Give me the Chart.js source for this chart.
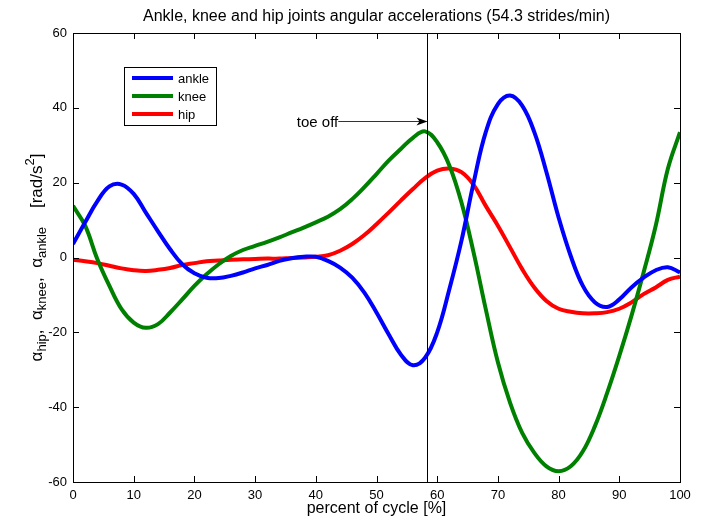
<!DOCTYPE html>
<html>
<head>
<meta charset="utf-8">
<script src="https://cdn.jsdelivr.net/npm/chart.js@4"></script>
<style>
  body { margin: 0; background: #fff; }
  #wrap { width: 706px; height: 520px; }
</style>
</head>
<body>
<div id="wrap"><canvas id="c"></canvas></div>
<script>
// percent of gait cycle
var pct = [0, 2, 4, 6, 8, 10, 12, 14, 16, 18, 20, 22, 24, 26, 28, 30, 32, 34, 36, 38, 40,
  42, 44, 46, 48, 50, 52, 54, 56, 58, 60, 62, 64, 66, 68, 70, 72, 74, 76, 78, 80,
  82, 84, 86, 88, 90, 92, 94, 96, 98, 100];

var ankle = [3.6, 9.4, 15, 19, 19.5, 17, 12, 7, 2.2, -1.8, -4.2, -5.4, -5.5, -4.9, -4, -2.9, -2, -0.9, -0.2, 0.2, 0.2,
  -0.9, -2.7, -5.4, -9.4, -14.7, -20.5, -25.9, -28.8, -26.8, -20, -8.5, 4.5, 20, 33.5, 41, 43.3, 40.6, 33.5, 22.8, 10.7,
  0.4, -7.6, -12, -13.2, -11.2, -8, -5.4, -3.4, -2.6, -4];

var knee = [13.8, 8.5, -0.4, -7.6, -13.8, -17.4, -18.8, -17.8, -14.7, -11.2, -7.6, -4.5, -1.8, 0.4, 2, 3.1, 4.2, 5.4, 6.7, 8, 9.4,
  10.9, 12.9, 15.6, 18.8, 22.3, 25.9, 29, 32, 33.7, 30.8, 24.6, 14.7, 1.3, -13.8, -28, -38.8, -46.9, -52.2, -55.8, -57.1,
  -55.8, -51.8, -45, -36.2, -26.3, -15.6, -4, 8.5, 23.7, 33.5];

var hip = [-0.6, -1, -1.5, -2.2, -2.9, -3.4, -3.6, -3.3, -2.8, -2, -1.5, -1, -0.8, -0.6, -0.5, -0.4, -0.3, -0.3, -0.1, 0, 0.2,
  0.6, 1.8, 3.6, 6, 8.9, 12, 15.2, 18.3, 21.2, 23.2, 23.8, 22.8, 19.4, 13.8, 8.5, 2.7, -3.1, -8, -11.6, -13.7,
  -14.5, -14.9, -14.9, -14.6, -13.7, -12, -9.8, -8, -6, -5.1];

var seriesNames = ['ankle', 'knee', 'hip'];
var seriesColors = ['#0000ff', '#008000', '#ff0000'];
var xTicks = [0, 10, 20, 30, 40, 50, 60, 70, 80, 90, 100];
var yTicks = [-60, -40, -20, 0, 20, 40, 60];
var toeOff = 58.4;
var toeOffLabel = { text: 'toe off', x: 43.7, y: 36.4 };

var FONT = '"Liberation Sans", Arial, sans-serif';

function pts(arr) {
  return arr.map(function(v, i) { return { x: pct[i], y: v }; });
}

var extras = {
  id: 'extras',
  afterDatasetsDraw: function(chart) {
    var ctx = chart.ctx;
    var a = chart.chartArea;
    var xs = chart.scales.x, ys = chart.scales.y;
    ctx.save();

    // toe-off line
    var tx = Math.round(xs.getPixelForValue(toeOff)) + 0.5;
    ctx.strokeStyle = '#000';
    ctx.lineWidth = 1;
    ctx.beginPath();
    ctx.moveTo(tx, a.top);
    ctx.lineTo(tx, a.bottom);
    ctx.stroke();

    // arrow + label
    var ax = xs.getPixelForValue(toeOffLabel.x);
    var ay = Math.round(ys.getPixelForValue(toeOffLabel.y)) + 0.5;
    ctx.strokeStyle = '#333';
    ctx.beginPath();
    ctx.moveTo(ax, ay);
    ctx.lineTo(tx - 1, ay);
    ctx.stroke();
    ctx.fillStyle = '#000';
    ctx.beginPath();
    ctx.moveTo(tx, ay);
    ctx.lineTo(tx - 11, ay - 4);
    ctx.lineTo(tx - 8, ay);
    ctx.lineTo(tx - 11, ay + 4);
    ctx.closePath();
    ctx.fill();
    ctx.font = '15px ' + FONT;
    ctx.textAlign = 'right';
    ctx.textBaseline = 'middle';
    ctx.fillText(toeOffLabel.text, ax, ay + 1);

    // frame
    ctx.strokeStyle = '#000';
    ctx.lineWidth = 1;
    ctx.strokeRect(Math.round(a.left) + 0.5, Math.round(a.top) + 0.5,
      Math.round(a.right - a.left), Math.round(a.bottom - a.top));

    // inward ticks on all four sides
    ctx.beginPath();
    xTicks.forEach(function(v) {
      var px = Math.round(xs.getPixelForValue(v)) + 0.5;
      ctx.moveTo(px, a.bottom); ctx.lineTo(px, a.bottom - 6);
      ctx.moveTo(px, a.top); ctx.lineTo(px, a.top + 6);
    });
    yTicks.forEach(function(v) {
      var py = Math.round(ys.getPixelForValue(v)) + 0.5;
      ctx.moveTo(a.left, py); ctx.lineTo(a.left + 6, py);
      ctx.moveTo(a.right, py); ctx.lineTo(a.right - 6, py);
    });
    ctx.stroke();

    // legend box
    var lx = 124, ly = 67, lw = 92, lh = 58;
    ctx.fillStyle = '#fff';
    ctx.fillRect(lx, ly, lw, lh);
    ctx.strokeRect(lx + 0.5, ly + 0.5, lw, lh);
    ctx.font = '13px ' + FONT;
    ctx.textAlign = 'left';
    ctx.textBaseline = 'middle';
    chart.data.datasets.forEach(function(ds, i) {
      var yy = ly + 11 + i * 18;
      ctx.strokeStyle = ds.borderColor;
      ctx.lineWidth = 4;
      ctx.beginPath();
      ctx.moveTo(lx + 8, yy);
      ctx.lineTo(lx + 49, yy);
      ctx.stroke();
      ctx.fillStyle = '#000';
      ctx.fillText(ds.label, lx + 54, yy + 1);
    });

    // title
    ctx.fillStyle = '#000';
    ctx.font = '16px ' + FONT;
    ctx.textAlign = 'center';
    ctx.textBaseline = 'middle';
    ctx.fillText('Ankle, knee and hip joints angular accelerations (54.3 strides/min)', (a.left + a.right) / 2, 17);

    // x axis title
    ctx.font = '16px ' + FONT;
    ctx.fillText('percent of cycle [%]', (a.left + a.right) / 2, 509);

    // y axis title with subscripts
    var parts = [
      ['\u03b1', 0], ['hip', 1], [',  ', 0],
      ['\u03b1', 0], ['knee', 1], [',  ', 0],
      ['\u03b1', 0], ['ankle', 1], ['    [rad/s', 0], ['2', 2], [']', 0]
    ];
    var big = '17px ' + FONT, small = '13px ' + FONT;
    var total = 0;
    parts.forEach(function(p) {
      ctx.font = p[1] ? small : big;
      total += ctx.measureText(p[0]).width;
    });
    ctx.translate(37, (a.top + a.bottom) / 2);
    ctx.rotate(-Math.PI / 2);
    ctx.textAlign = 'left';
    ctx.textBaseline = 'alphabetic';
    var cx = -total / 2;
    parts.forEach(function(p) {
      ctx.font = p[1] ? small : big;
      var dy = p[1] === 1 ? 4 : (p[1] === 2 ? -8 : 0);
      ctx.fillText(p[0], cx, 5 + dy);
      cx += ctx.measureText(p[0]).width;
    });
    ctx.restore();
  }
};

var datasets = [ankle, knee, hip].map(function(arr, i) {
  return {
    label: seriesNames[i],
    data: pts(arr),
    borderColor: seriesColors[i],
    backgroundColor: seriesColors[i],
    borderWidth: 4,
    pointRadius: 0,
    tension: 0.4,
    fill: false
  };
});

new Chart(document.getElementById('c'), {
  type: 'line',
  data: { datasets: datasets },
  options: {
    responsive: true,
    maintainAspectRatio: false,
    animation: false,
    layout: { padding: { left: 0, top: 33, right: 26, bottom: 0 } },
    plugins: {
      legend: { display: false },
      title: { display: false },
      tooltip: { enabled: false }
    },
    scales: {
      x: {
        type: 'linear',
        min: 0,
        max: 100,
        afterFit: function(s) { s.height = 38; },
        afterBuildTicks: function(s) { s.ticks = xTicks.map(function(v) { return { value: v }; }); },
        grid: { display: false, drawTicks: false },
        border: { display: false },
        ticks: { color: '#000', padding: 6, maxRotation: 0, font: { family: FONT, size: 13 } }
      },
      y: {
        min: -60,
        max: 60,
        afterFit: function(s) { s.width = 73; },
        afterBuildTicks: function(s) { s.ticks = yTicks.map(function(v) { return { value: v }; }); },
        grid: { display: false, drawTicks: false },
        border: { display: false },
        ticks: { color: '#000', padding: 6, font: { family: FONT, size: 13 } }
      }
    }
  },
  plugins: [extras]
});
</script>
</body>
</html>
